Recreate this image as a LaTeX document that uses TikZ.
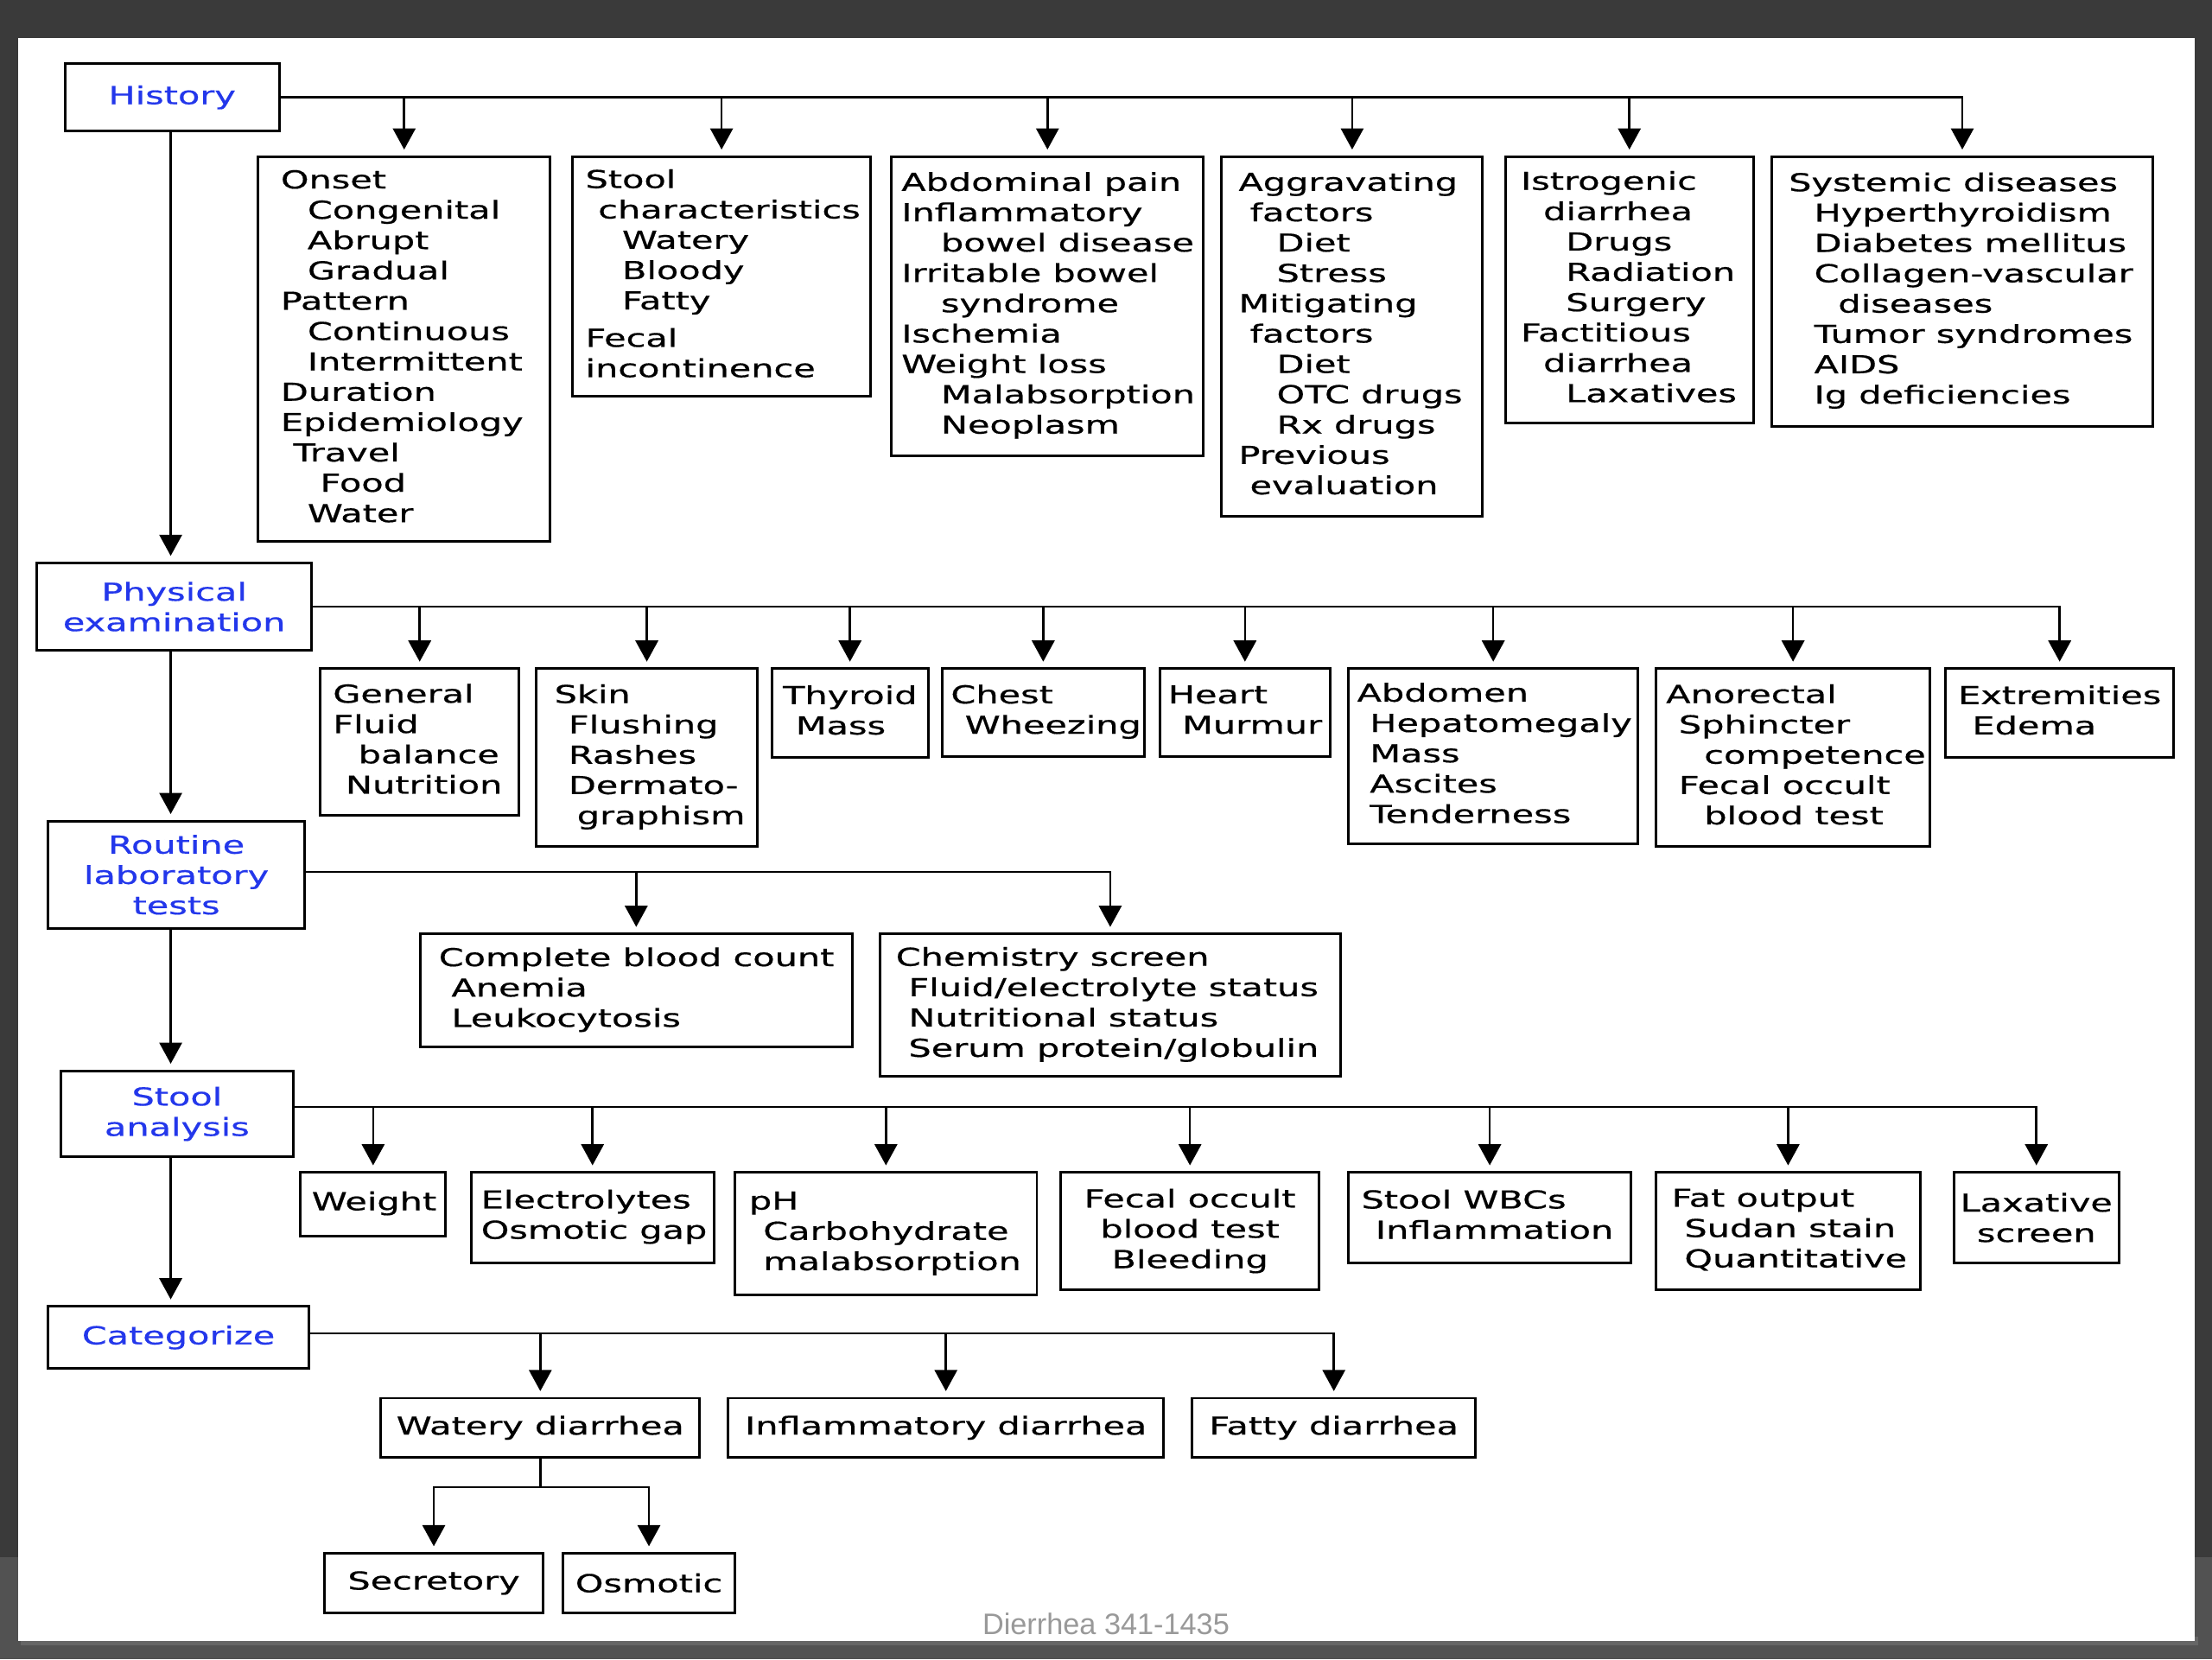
\documentclass[tikz,border=0pt]{standalone}
\usepackage{fontspec}
\setmainfont[FakeStretch=1.45, FakeBold=0.6]{DejaVu Sans}
\newfontfamily\footfont{Liberation Sans}
\usetikzlibrary{arrows.meta}
\definecolor{hblue}{RGB}{35,55,235}
\definecolor{frame}{RGB}{58,58,58}
\definecolor{framelow}{RGB}{82,82,82}
\newcommand\txt{\fontsize{17.5}{21.5}\selectfont}
\newcommand\ind[1]{\hspace*{#1pt}}
% left-aligned box: name, x1, y1, x2, y2, pad, lines
\newcommand\bxL[7]{\node[box, minimum width=#4pt-#2pt, minimum height=#5pt-#3pt] (#1) at (#2pt,-#3pt)
  {\makebox[\dimexpr#4pt-#2pt\relax][l]{\hspace*{#6pt}\begin{tabular}{@{}l@{}}#7\end{tabular}}};}
% centered box: name, x1, y1, x2, y2, lines
\newcommand\bxC[6]{\node[box, align=center, minimum width=#4pt-#2pt, minimum height=#5pt-#3pt] (#1) at (#2pt,-#3pt) {#6};}
\tikzset{
  box/.style={draw, line width=1.8pt, anchor=north west, inner sep=0pt, outer sep=0pt, font=\txt, fill=white},
  conn/.style={line width=1.6pt},
  arr/.style={conn, -{Triangle[length=15pt,width=16pt]}, shorten >=5pt},
}
\begin{document}
\begin{tikzpicture}[x=1pt,y=1pt]
\useasboundingbox (0,0) rectangle (1568,-1176);
\fill[frame] (0,0) rectangle (1568,-1176);
\fill[framelow] (0,-1104) rectangle (1568,-1176);
\fill[black!60] (15,-1160) rectangle (1558,-1166);
\fill[white] (13,-27) rectangle (1556,-1163);

% ---------- History ----------
\bxC{hist}{46}{45}{198}{93}{\color{hblue}History}
\bxL{onset}{183}{111}{390}{384}{16}{Onset\\ \ind{19}Congenital\\ \ind{19}Abrupt\\ \ind{19}Gradual\\ Pattern\\ \ind{19}Continuous\\ \ind{19}Intermittent\\ Duration\\ Epidemiology\\ \ind{9}Travel\\ \ind{28}Food\\ \ind{19}Water}
\bxL{stool}{406}{111}{617}{281}{9}{Stool\\ \ind{9}characteristics\\ \ind{26}Watery\\ \ind{26}Bloody\\ \ind{26}Fatty\\[5pt] Fecal\\ incontinence}
\bxL{abdp}{632}{111}{853}{323}{7}{Abdominal pain\\ Inflammatory\\ \ind{28}bowel disease\\ Irritable bowel\\ \ind{28}syndrome\\ Ischemia\\ Weight loss\\ \ind{28}Malabsorption\\ \ind{28}Neoplasm}
\bxL{aggr}{866}{111}{1051}{366}{12}{Aggravating\\ \ind{8}factors\\ \ind{27}Diet\\ \ind{27}Stress\\ Mitigating\\ \ind{8}factors\\ \ind{27}Diet\\ \ind{27}OTC drugs\\ \ind{27}Rx drugs\\ Previous\\ \ind{8}evaluation}
\bxL{istr}{1067}{111}{1243}{300}{11}{Istrogenic\\ \ind{16}diarrhea\\ \ind{32}Drugs\\ \ind{32}Radiation\\ \ind{32}Surgery\\ Factitious\\ \ind{16}diarrhea\\ \ind{32}Laxatives}
\bxL{sysd}{1256}{111}{1526}{302}{12}{Systemic diseases\\ \ind{18}Hyperthyroidism\\ \ind{18}Diabetes mellitus\\ \ind{18}Collagen-vascular\\ \ind{35}diseases\\ \ind{18}Tumor syndromes\\ \ind{18}AIDS\\ \ind{18}Ig deficiencies}

% ---------- Physical examination ----------
\bxC{pe}{26}{399}{221}{461}{\color{hblue}Physical\\ \color{hblue}examination}
\bxL{gen}{227}{474}{368}{578}{9}{General\\ Fluid\\ \ind{18}balance\\ \ind{9}Nutrition}
\bxL{skin}{380}{474}{537}{600}{13}{Skin\\ \ind{10}Flushing\\ \ind{10}Rashes\\ \ind{10}Dermato-\\ \ind{16}graphism}
\bxL{thy}{547}{474}{658}{537}{8}{Thyroid\\ \ind{9}Mass}
\bxL{chest}{668}{474}{811}{536}{6}{Chest\\ \ind{10}Wheezing}
\bxL{heart}{822}{474}{943}{536}{6}{Heart\\ \ind{10}Murmur}
\bxL{abdo}{956}{474}{1161}{598}{6}{Abdomen\\ \ind{9}Hepatomegaly\\ \ind{9}Mass\\ \ind{9}Ascites\\ \ind{9}Tenderness}
\bxL{anor}{1174}{474}{1368}{600}{7}{Anorectal\\ \ind{9}Sphincter\\ \ind{27}competence\\ \ind{9}Fecal occult\\ \ind{27}blood test}
\bxL{extr}{1379}{474}{1541}{537}{9}{Extremities\\ \ind{10}Edema}

% ---------- Routine laboratory tests ----------
\bxC{rlt}{34}{582}{216}{658}{\color{hblue}Routine\\ \color{hblue}laboratory\\ \color{hblue}tests}
\bxL{cbc}{298}{662}{604}{742}{13}{Complete blood count\\ \ind{9}Anemia\\ \ind{9}Leukocytosis}
\bxL{chem}{624}{662}{950}{763}{11}{Chemistry screen\\ \ind{9}Fluid/electrolyte status\\ \ind{9}Nutritional status\\ \ind{9}Serum protein/globulin}

% ---------- Stool analysis ----------
\bxC{sa}{43}{759}{208}{820}{\color{hblue}Stool\\ \color{hblue}analysis}
\bxL{wt}{213}{831}{316}{876}{8}{Weight}
\bxL{elec}{334}{831}{506}{895}{7}{Electrolytes\\ Osmotic gap}
\bxL{ph}{521}{831}{735}{918}{10}{pH\\ \ind{10}Carbohydrate\\ \ind{10}malabsorption}
\bxC{fob}{752}{831}{935}{914}{Fecal occult\\ blood test\\ Bleeding}
\bxL{wbc}{956}{831}{1156}{895}{9}{Stool WBCs\\ \ind{10}Inflammation}
\bxL{fat}{1174}{831}{1361}{914}{11}{Fat output\\ \ind{9}Sudan stain\\ \ind{9}Quantitative}
\bxC{lax}{1385}{831}{1502}{895}{Laxative\\ screen}

% ---------- Categorize ----------
\bxC{cat}{34}{926}{219}{970}{\color{hblue}Categorize}
\bxC{wd}{270}{991}{496}{1033}{Watery diarrhea}
\bxC{infd}{516}{991}{825}{1033}{Inflammatory diarrhea}
\bxC{fd}{845}{991}{1046}{1033}{Fatty diarrhea}
\bxC{sec}{230}{1101}{385}{1143}{Secretory}
\bxC{osm}{399}{1101}{521}{1143}{Osmotic}

% ---------- connectors ----------
\coordinate (spine) at (121,0);
\draw[arr] (spine |- hist.south) -- (spine |- pe.north);
\draw[arr] (spine |- pe.south) -- (spine |- rlt.north);
\draw[arr] (spine |- rlt.south) -- (spine |- sa.north);
\draw[arr] (spine |- sa.south) -- (spine |- cat.north);

\draw[arr] (hist.east) -| (sysd.north);
\foreach \n in {onset,stool,abdp,aggr,istr} \draw[arr] (hist.east -| \n.north) -- (\n.north);

\draw[arr] (pe.east) -| (extr.north);
\foreach \n in {gen,skin,thy,chest,heart,abdo,anor} \draw[arr] (pe.east -| \n.north) -- (\n.north);

\draw[arr] ([yshift=2pt]rlt.east) -| (chem.north);
\draw[arr] ([yshift=2pt]rlt.east -| cbc.north) -- (cbc.north);

\coordinate (saj) at ([yshift=5pt]sa.east);
\draw[arr] (saj) -| (lax.north);
\foreach \n in {wt,elec,ph,fob,wbc,fat} \draw[arr] (saj -| \n.north) -- (\n.north);

\coordinate (catj) at ([yshift=3pt]cat.east);
\draw[arr] (catj) -| (fd.north);
\foreach \n in {wd,infd} \draw[arr] (catj -| \n.north) -- (\n.north);

\draw[conn] (wd.south) -- ++(0,-21) coordinate (wj);
\draw[arr] (wj) -| (sec.north);
\draw[arr] (wj) -| (osm.north);

\node[font=\footfont\fontsize{21}{24}\selectfont, text=black!40, inner sep=0pt] (foot) at (784,-1151) {Dierrhea 341-1435};
\end{tikzpicture}
\end{document}
